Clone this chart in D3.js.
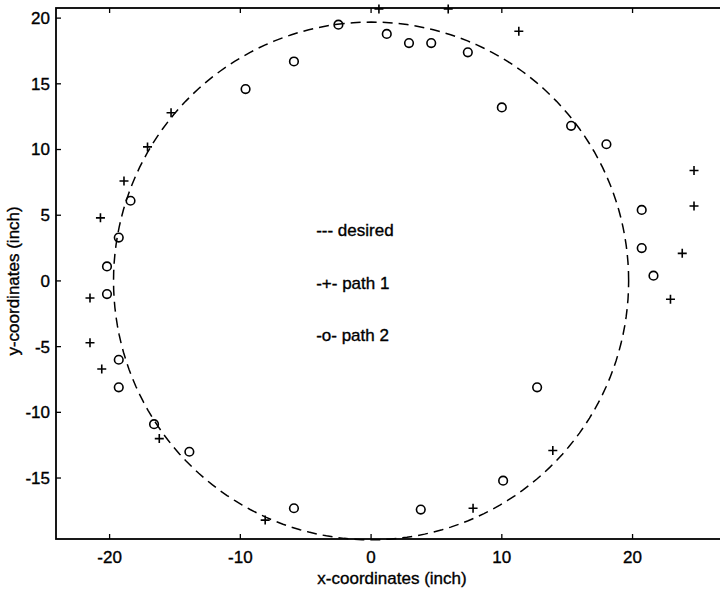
<!DOCTYPE html>
<html>
<head>
<meta charset="utf-8">
<script src="https://cdn.jsdelivr.net/npm/d3@7"></script>
<style>
  body { margin: 0; background: #fff; }
  svg { display: block; }
  text { font-family: "Liberation Sans", Arial, sans-serif; fill: #000; stroke: #000; stroke-width: 0.35; }
</style>
</head>
<body>
<div id="chart"></div>
<script>
// desired circular path
const circleRadius = 19.7;

// path 1 (+ markers)
const path1X = [0.6, 5.9, 11.3, -15.3, -17.1, -18.9, -20.7, -21.5, -21.5, -20.6, -16.2, -8.1, 7.8, 13.9, 22.9, 23.8, 24.7, 24.7];
const path1Y = [20.7, 20.7, 19.0, 12.8, 10.2, 7.6, 4.8, -1.3, -4.7, -6.7, -12.0, -18.2, -17.3, -12.9, -1.4, 2.1, 5.7, 8.4];

// path 2 (o markers)
const path2X = [-2.5, -5.9, -9.6, -18.4, -19.3, -20.2, -20.2, -19.3, -19.3, -16.6, -13.9, -5.9, 3.8, 10.1, 12.7, 21.6, 20.7, 20.7, 18.0, 15.3, 10.0, 7.4, 4.6, 2.9, 1.2];
const path2Y = [19.5, 16.7, 14.6, 6.1, 3.3, 1.1, -1.0, -6.0, -8.1, -10.9, -13.0, -17.3, -17.4, -15.2, -8.1, 0.4, 2.5, 5.4, 10.4, 11.8, 13.2, 17.4, 18.1, 18.1, 18.8];

const xTicks = [-20, -10, 0, 10, 20];
const yTicks = [-15, -10, -5, 0, 5, 10, 15, 20];
const legendLabels = ['--- desired', '-+- path 1', '-o- path 2'];
const legendY = [3.4, -0.6, -4.6];

const W = 720, H = 589;
const margin = {top: 8, right: -8, bottom: 50, left: 56};

const svg = d3.select('#chart').append('svg')
  .attr('width', W)
  .attr('height', H);

const xScale = d3.scaleLinear()
  .domain([-24.1, 27.3])
  .range([margin.left, W - margin.right]);

const yScale = d3.scaleLinear()
  .domain([-19.64, 20.77])
  .range([H - margin.bottom, margin.top]);

const plot = svg.append('g');

// dashed desired circle
const circlePts = d3.range(0, 361, 2).map(a => [
  circleRadius * Math.cos(a * Math.PI / 180),
  circleRadius * Math.sin(a * Math.PI / 180)
]);
plot.append('path')
  .datum(circlePts)
  .attr('fill', 'none')
  .attr('stroke', '#000')
  .attr('stroke-width', 1.5)
  .attr('stroke-dasharray', '10,6')
  .attr('d', d3.line().x(d => xScale(d[0])).y(d => yScale(d[1])));

// path 1 markers
const p1 = d3.zip(path1X, path1Y);
plot.append('g')
  .attr('stroke', '#000')
  .attr('stroke-width', 1.6)
  .selectAll('path')
  .data(p1)
  .join('path')
    .attr('d', d => {
      const cx = xScale(d[0]), cy = yScale(d[1]), s = 4.5;
      return `M${cx - s},${cy}H${cx + s}M${cx},${cy - s}V${cy + s}`;
    });

// path 2 markers
const p2 = d3.zip(path2X, path2Y);
plot.append('g')
  .attr('fill', 'none')
  .attr('stroke', '#000')
  .attr('stroke-width', 1.6)
  .selectAll('circle')
  .data(p2)
  .join('circle')
    .attr('cx', d => xScale(d[0]))
    .attr('cy', d => yScale(d[1]))
    .attr('r', 4.3);

// axes box with inward ticks
const x0 = xScale.range()[0], x1 = xScale.range()[1];
const y0 = yScale.range()[0], y1 = yScale.range()[1];

svg.append('rect')
  .attr('x', x0).attr('y', y1)
  .attr('width', x1 - x0).attr('height', y0 - y1)
  .attr('fill', 'none')
  .attr('stroke', '#000')
  .attr('stroke-width', 1.8);

const tickLen = 5;
const axes = svg.append('g').attr('stroke', '#000').attr('stroke-width', 1.3);
xTicks.forEach(t => {
  const x = xScale(t);
  axes.append('line').attr('x1', x).attr('x2', x).attr('y1', y0).attr('y2', y0 - tickLen);
  axes.append('line').attr('x1', x).attr('x2', x).attr('y1', y1).attr('y2', y1 + tickLen);
});
yTicks.forEach(t => {
  const y = yScale(t);
  axes.append('line').attr('x1', x0).attr('x2', x0 + tickLen).attr('y1', y).attr('y2', y);
});

svg.append('g')
  .selectAll('text')
  .data(xTicks)
  .join('text')
    .attr('x', d => xScale(d))
    .attr('y', y0 + 24)
    .attr('text-anchor', 'middle')
    .attr('font-size', 17)
    .text(d => d);

svg.append('g')
  .selectAll('text')
  .data(yTicks)
  .join('text')
    .attr('x', x0 - 6)
    .attr('y', d => yScale(d))
    .attr('dy', '0.35em')
    .attr('text-anchor', 'end')
    .attr('font-size', 17)
    .text(d => d);

svg.append('text')
  .attr('x', 392)
  .attr('y', 584)
  .attr('text-anchor', 'middle')
  .attr('font-size', 17)
  .text('x-coordinates (inch)');

svg.append('text')
  .attr('transform', `translate(19, ${yScale(0)}) rotate(-90)`)
  .attr('text-anchor', 'middle')
  .attr('font-size', 17)
  .text('y-coordinates (inch)');

// legend annotations
svg.append('g')
  .selectAll('text')
  .data(legendLabels)
  .join('text')
    .attr('x', xScale(-4.2))
    .attr('y', (d, i) => yScale(legendY[i]))
    .attr('font-size', 17)
    .text(d => d);
</script>
</body>
</html>
